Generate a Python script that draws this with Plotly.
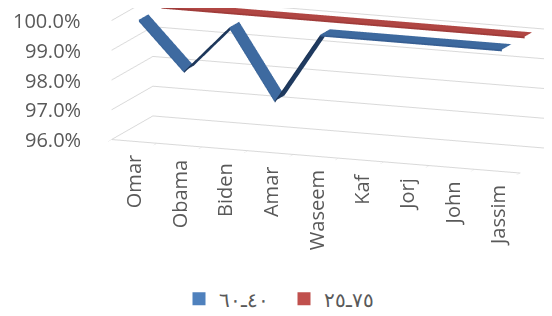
import math
import plotly.graph_objects as go

# ---------------- data ----------------
categories = ["Omar", "Obama", "Biden", "Amar", "Waseem", "Kaf", "Jorj", "John", "Jassim"]
series_names = ["٤٠ـ٦٠", "٧٥ـ٢٥"]
blue_values = [1.000, 0.984, 1.000, 0.9765, 1.000, 1.000, 1.000, 1.000, 1.000]
red_values = [1.000, 1.000, 1.000, 1.000, 1.000, 1.000, 1.000, 1.000, 1.000]
z_ticks = [0.96, 0.97, 0.98, 0.99, 1.00]
z_tick_labels = ["96.0%", "97.0%", "98.0%", "99.0%", "100.0%"]

# ---------------- styling ----------------
GRID = "#D9D9D9"
TXT = "#595959"
FONT = "Open Sans"
legend_colors = ["#4F81BD", "#C0504D"]
face_colors = [
    {"up": "#1F3A5F", "down": "#3E6AA0", "flat": "#3D699E",
     "up_f": "#1C3456", "down_f": "#3A659A", "flat_f": "#375F93"},
    {"up": "#7A2B29", "down": "#AE4240", "flat": "#B04643",
     "up_f": "#6E2725", "down_f": "#A03C3A", "flat_f": "#A03C3A"},
]
rows = [(0.22, 0.68), (1.32, 1.68)]
THICK = 0.0006  # ribbon thickness (value units)
Z_RANGE = [0.96, 1.001]


def ribbon(vals, d0, d1, cols):
    xs, ys, zs = [], [], []
    for i, v in enumerate(vals):
        xs += [i, i, i]
        ys += [d0, d1, d0]
        zs += [v, v, v - THICK]
    I, J, K, fc = [], [], [], []
    for i in range(len(vals) - 1):
        a0, a1, a2 = 3 * i, 3 * i + 1, 3 * i + 2
        b0, b1, b2 = 3 * i + 3, 3 * i + 4, 3 * i + 5
        dv = vals[i + 1] - vals[i]
        kind = "flat" if abs(dv) < 1e-9 else ("up" if dv > 0 else "down")
        # front (thickness) face
        I += [a0, a2]
        J += [a2, b2]
        K += [b0, b0]
        fc += [cols[kind + "_f"], cols[kind + "_f"]]
        # top face
        I += [a0, a1]
        J += [a1, b1]
        K += [b0, b0]
        fc += [cols[kind], cols[kind]]
    return go.Mesh3d(x=xs, y=ys, z=zs, i=I, j=J, k=K, facecolor=fc,
                     flatshading=True, showscale=False, hoverinfo="skip",
                     lighting=dict(ambient=1, diffuse=0, specular=0, roughness=1, fresnel=0))


fig = go.Figure()
fig.add_trace(ribbon(red_values, rows[1][0], rows[1][1], face_colors[1]))
fig.add_trace(ribbon(blue_values, rows[0][0], rows[0][1], face_colors[0]))

# legend entries
for name, col in zip(series_names, legend_colors):
    fig.add_trace(go.Scatter(x=[None], y=[None], mode="markers", name=name,
                             marker=dict(symbol="square", size=13, color=col)))

# ---------------- camera (orthographic) ----------------
theta = math.radians(20.75)
phi = math.radians(12.5)
D = 4.0
ppu = 158.0
e = (math.sin(theta) * math.cos(phi), -math.cos(theta) * math.cos(phi), math.sin(phi))
r = (math.cos(theta), math.sin(theta), 0.0)
u = (-math.sin(theta) * math.sin(phi), math.cos(theta) * math.sin(phi), math.cos(phi))
shift_x, shift_y = 52.5, 82.5  # pixels right / up of the box centre
c = tuple(-(shift_x / ppu) * r[k] - (shift_y / ppu) * u[k] for k in range(3))
eye = tuple(c[k] + D * e[k] for k in range(3))

front_len, depth_dx, height_px = 408.5, 41.3, 119.0
asp_x = front_len / (math.cos(theta) * ppu)
asp_y = depth_dx / (math.sin(theta) * ppu)
asp_z = height_px * ((Z_RANGE[1] - Z_RANGE[0]) / 0.04) / (math.cos(phi) * ppu)

annotations = []
for val, lab in zip(z_ticks, z_tick_labels):
    annotations.append(dict(x=-0.5, y=0, z=val, text=lab, showarrow=False,
                            xanchor="right", yanchor="middle", xshift=-29,
                            font=dict(family=FONT, size=20, color=TXT)))
for i, cat in enumerate(categories):
    annotations.append(dict(x=i, y=0, z=Z_RANGE[0], text=cat, showarrow=False, textangle=-90,
                            xanchor="center", yanchor="top", yshift=-12,
                            font=dict(family=FONT, size=20, color=TXT)))

fig.update_layout(
    width=552, height=316,
    margin=dict(l=0, r=0, t=0, b=0),
    paper_bgcolor="white", plot_bgcolor="white",
    xaxis=dict(visible=False), yaxis=dict(visible=False),
    showlegend=True,
    legend=dict(orientation="h", x=0.50, xanchor="center", y=0.08, yanchor="middle",
                entrywidth=60,
                font=dict(family=FONT, size=20, color=TXT)),
    scene=dict(
        domain=dict(x=[0, 1], y=[0, 1]),
        aspectmode="manual",
        aspectratio=dict(x=asp_x, y=asp_y, z=asp_z),
        camera=dict(projection=dict(type="orthographic"),
                    eye=dict(x=eye[0], y=eye[1], z=eye[2]),
                    center=dict(x=c[0], y=c[1], z=c[2]),
                    up=dict(x=0, y=0, z=1)),
        xaxis=dict(range=[-0.5, len(categories) - 0.5], showgrid=False, zeroline=False,
                   showline=True, linecolor=GRID, linewidth=2, ticks="outside",
                   tickvals=[k - 0.5 for k in range(len(categories) + 1)], ticklen=7,
                   tickcolor=GRID, showticklabels=False, title=dict(text=""),
                   showbackground=False, showspikes=False),
        yaxis=dict(range=[0, 2], showgrid=False, zeroline=False, showline=False,
                   showticklabels=False, ticks="", title=dict(text=""),
                   showbackground=False, showspikes=False),
        zaxis=dict(range=Z_RANGE, tickvals=z_ticks, showgrid=True, gridcolor=GRID,
                   gridwidth=2, zeroline=False, showline=False, showticklabels=False,
                   ticks="", title=dict(text=""), showbackground=False, showspikes=False),
        annotations=annotations,
    ),
)

fig.write_html("out.html")
